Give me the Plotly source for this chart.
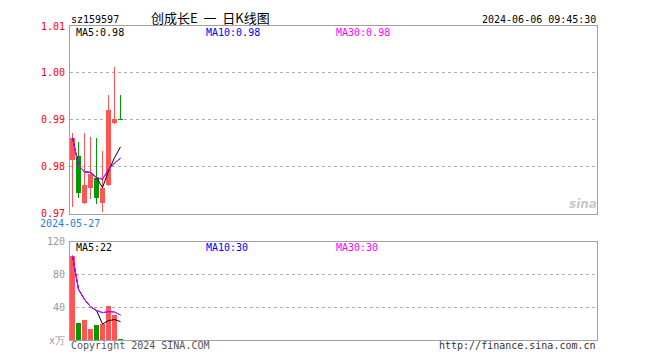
import plotly.graph_objects as go
import pandas as pd

# ---------------- data ----------------
dates = ["2024-05-27", "2024-05-28", "2024-05-29", "2024-05-30", "2024-05-31",
         "2024-06-03", "2024-06-04", "2024-06-05", "2024-06-06"]
open_ = [0.9814, 0.9823, 0.9724, 0.9755, 0.9777, 0.9724, 0.9762, 0.9893, 0.9902]
close = [0.9862, 0.9745, 0.9762, 0.9784, 0.9734, 0.9755, 0.9922, 0.9903, 0.9900]
high = [0.9872, 0.9854, 0.9872, 0.9864, 0.9862, 0.9833, 0.9953, 1.0012, 0.9953]
low = [0.9714, 0.9733, 0.9722, 0.9731, 0.9722, 0.9703, 0.9760, 0.9892, 0.9900]
volume = [103, 20.8, 25.2, 13.6, 18, 20, 42, 31.2, 1.2]  # 万

price_ticks = [0.97, 0.98, 0.99, 1.00, 1.01]
price_ticktext = ["0.97", "0.98", "0.99", "1.00", "1.01"]
vol_ticks = [0, 40, 80, 120]
vol_ticktext = ["x万", "40", "80", "120"]

UP = "#ff5555"
DOWN = "#009900"
MONO = "DejaVu Sans Mono"

idx = list(range(len(dates)))
up = [c > o for o, c in zip(open_, close)]
colors = [UP if u else DOWN for u in up]

cs = pd.Series(close)
ma5 = cs.rolling(5, min_periods=1).mean()
ma10 = cs.rolling(10, min_periods=1).mean()
ma30 = cs.rolling(30, min_periods=1).mean()
vs = pd.Series(volume)
vma5 = vs.rolling(5, min_periods=1).mean()
vma10 = vs.rolling(10, min_periods=1).mean()
vma30 = vs.rolling(30, min_periods=1).mean()

fig = go.Figure()

# wicks
fig.add_trace(go.Bar(x=idx, y=[h - l for h, l in zip(high, low)], base=low,
                     width=0.1, marker=dict(color=colors, line=dict(width=0)),
                     xaxis="x", yaxis="y", hoverinfo="skip"))
# bodies
fig.add_trace(go.Bar(x=idx, y=[abs(c - o) for o, c in zip(open_, close)],
                     base=[min(o, c) for o, c in zip(open_, close)],
                     width=0.83, marker=dict(color=colors, line=dict(width=0)),
                     xaxis="x", yaxis="y"))
# price MAs
for s, col in [(ma5, "#000000"), (ma10, "#0000ff"), (ma30, "#ff00ff")]:
    fig.add_trace(go.Scatter(x=idx, y=s, mode="lines", line=dict(color=col, width=1),
                             xaxis="x", yaxis="y"))

# volume
fig.add_trace(go.Bar(x=idx, y=volume, width=0.83,
                     marker=dict(color=colors, line=dict(width=0)),
                     xaxis="x2", yaxis="y2"))
for s, col in [(vma5, "#000000"), (vma10, "#0000ff"), (vma30, "#ff00ff")]:
    fig.add_trace(go.Scatter(x=idx, y=s, mode="lines", line=dict(color=col, width=1),
                             xaxis="x2", yaxis="y2"))

axis_common = dict(showline=True, mirror=True, linecolor="#a0a0a0", linewidth=1,
                   zeroline=False)
XRANGE = [-0.41667, 87.41667]

# page body has an 8px margin: compensate so the plot lands at 70..597 x 20..340
fig.update_layout(
    width=652, height=352,
    margin=dict(l=62, r=63, t=12, b=20),
    paper_bgcolor="white", plot_bgcolor="white",
    showlegend=False, barmode="overlay", bargap=0,
    font=dict(family=MONO, size=10, color="#000"),
    xaxis=dict(domain=[0, 1], range=XRANGE, anchor="y",
               showgrid=False, showticklabels=False, ticks="", **axis_common),
    yaxis=dict(domain=[0.4016, 1], range=[0.97, 1.01], anchor="x",
               tickvals=price_ticks, ticktext=price_ticktext,
               tickfont=dict(family=MONO, size=10, color="#ff0000"),
               ticks="outside", ticklen=2, tickcolor="rgba(0,0,0,0)",
               showgrid=True, gridcolor="#b0b0b0", griddash="dot", gridwidth=1,
               **axis_common),
    xaxis2=dict(domain=[0, 1], range=XRANGE, anchor="y2", matches="x",
                showgrid=False, showticklabels=False, ticks="", **axis_common),
    yaxis2=dict(domain=[0, 0.3125], range=[0, 120], anchor="x2",
                tickvals=vol_ticks, ticktext=vol_ticktext,
                tickfont=dict(family=MONO, size=10, color="#999999"),
                ticks="outside", ticklen=2, tickcolor="rgba(0,0,0,0)",
                showgrid=True, gridcolor="#b0b0b0", griddash="dot", gridwidth=1,
                **axis_common),
)


def px(x):
    return (x - 70) / 527


def py(y):
    return (340 - y) / 320


def ann(text, x, y, xanchor="left", color="#000", size=10, family=MONO):
    fig.add_annotation(text=text, x=px(x), y=py(y), xref="paper", yref="paper",
                       xanchor=xanchor, yanchor="middle", showarrow=False,
                       borderpad=0,
                       font=dict(family=family, size=size, color=color))


ann("sz159597", 70, 13)
ann("创成长E  一  日K线图", 210, 11, xanchor="center", size=13,
    family="Noto Sans CJK SC")
ann("2024-06-06 09:45:30", 597, 13, xanchor="right")
ann(f"MA5:{ma5.iloc[-1]:.2f}", 75, 26.5)
ann(f"MA10:{ma10.iloc[-1]:.2f}", 205, 26.5, color="#0000ff")
ann(f"MA30:{ma30.iloc[-1]:.2f}", 335, 26.5, color="#ff00ff")
ann(dates[0], 70, 221.5, xanchor="center", color="#1e7fd6")
ann(f"MA5:{int(vma5.iloc[-1])}", 75, 246)
ann(f"MA10:{int(vma10.iloc[-1])}", 205, 246, color="#0000ff")
ann(f"MA30:{int(vma30.iloc[-1])}", 335, 246, color="#ff00ff")
ann("Copyright 2024 SINA.COM", 70, 346, color="#555555")
ann("http://finance.sina.com.cn", 597, 346, xanchor="right", color="#333333")
ann("<b><i>sina</i></b>", 583, 201, xanchor="center", color="#c8c8c8",
    size=12, family="DejaVu Sans")

fig.write_html("out.html")
